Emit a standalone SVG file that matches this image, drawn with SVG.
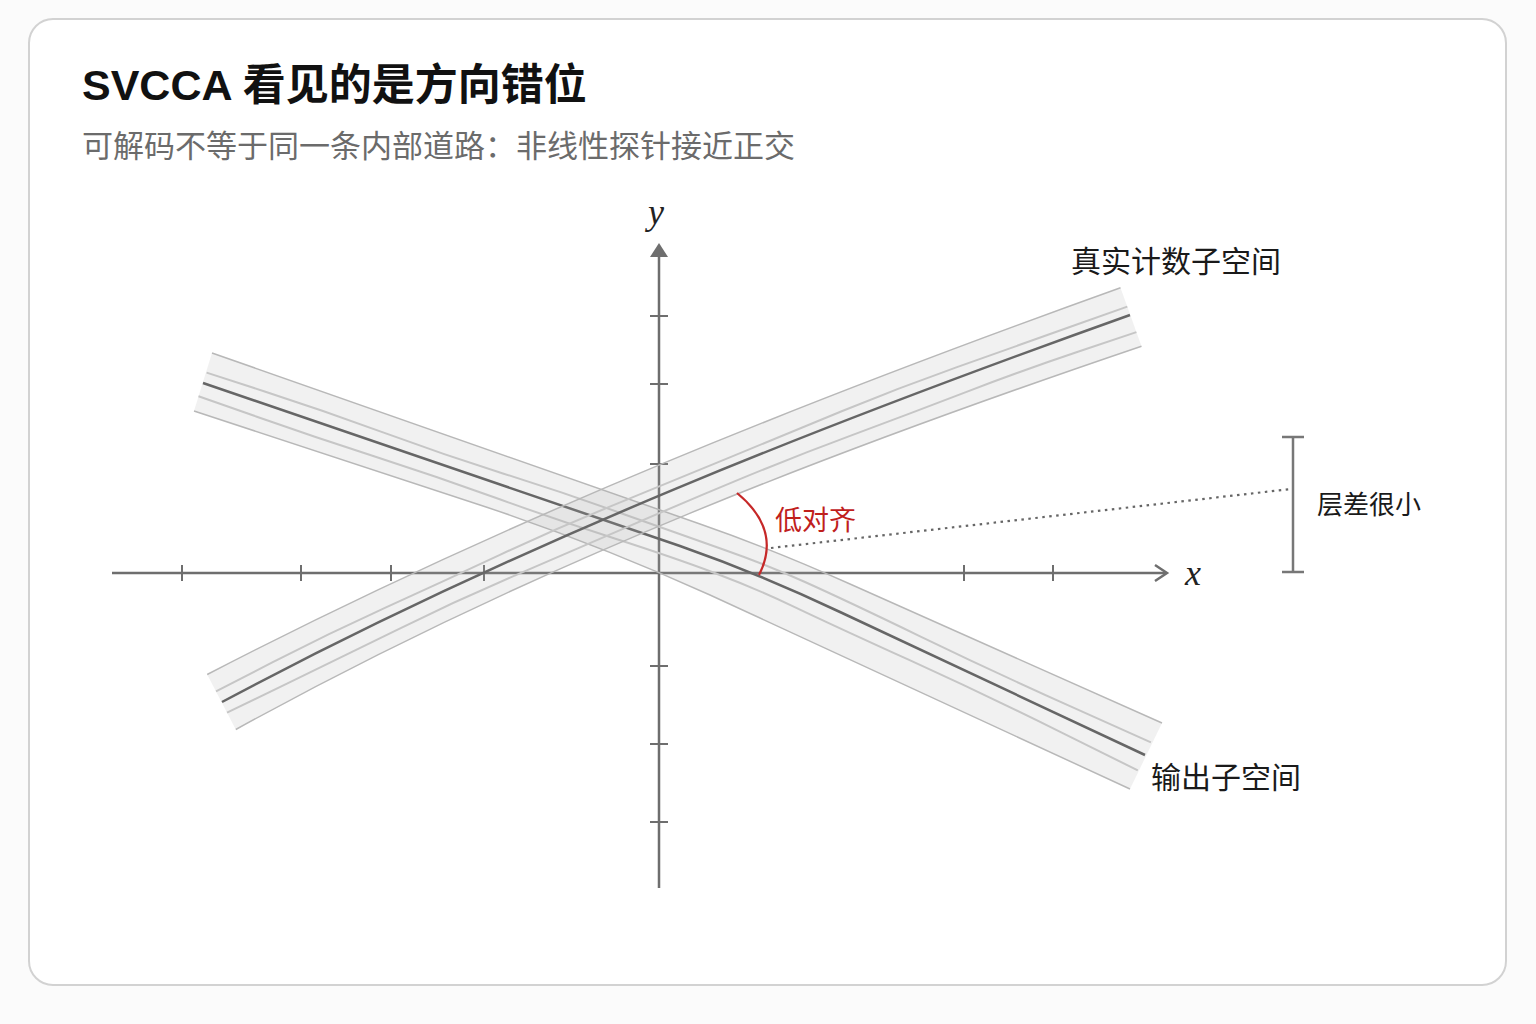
<svg xmlns="http://www.w3.org/2000/svg" width="1536" height="1024" viewBox="0 0 1536 1024">
<style>
.axis{stroke:#6e6e6e;stroke-width:2.5;fill:none;stroke-linecap:butt}
.tick{stroke:#6e6e6e;stroke-width:2}
.bandfill{fill:#aaaaaa;fill-opacity:0.17;stroke:none}
.edge{stroke:#b8b8b8;stroke-width:1.5;fill:none}
.inner{stroke:#c6c6c6;stroke-width:2;fill:none;stroke-linejoin:round}
.core{stroke:#666666;stroke-width:2.5;fill:none;stroke-linejoin:round}
.lbl{font-family:'Noto Sans CJK SC','Noto Sans',sans-serif;fill:#1a1a1a}
.var{font-family:'Liberation Serif','DejaVu Serif',serif;font-style:italic;fill:#222}
</style>
<rect width="1536" height="1024" fill="#fbfbfb"/>
<rect x="29" y="19" width="1477" height="966" rx="24" fill="#ffffff" stroke="#d2d2d2" stroke-width="2"/>

<g id="title">
<text x="82" y="100" font-family="'Liberation Sans','Noto Sans CJK SC',sans-serif" font-weight="bold" font-size="43" fill="#111">SVCCA 看见的是方向错位</text>
<text x="82" y="157" font-family="'Noto Sans CJK SC','Noto Sans',sans-serif" font-size="31" fill="#6b6b6b">可解码不等于同一条内部道路：非线性探针接近正交</text>
</g>

<g id="axes">
<line class="axis" x1="112" y1="573" x2="1165" y2="573"/>
<path class="axis" d="M1155,565 L1167,573 L1155,581"/>
<line class="axis" x1="659" y1="888" x2="659" y2="252"/>
<polygon points="659,243 668,257 650,257" fill="#6e6e6e"/>
<g class="tick">
<line x1="182" y1="565" x2="182" y2="581"/>
<line x1="301" y1="565" x2="301" y2="581"/>
<line x1="391" y1="565" x2="391" y2="581"/>
<line x1="484" y1="565" x2="484" y2="581"/>
<line x1="964" y1="565" x2="964" y2="581"/>
<line x1="1053" y1="565" x2="1053" y2="581"/>
<line x1="650" y1="316" x2="668" y2="316"/>
<line x1="650" y1="384" x2="668" y2="384"/>
<line x1="650" y1="464" x2="668" y2="464"/>
<line x1="650" y1="666" x2="668" y2="666"/>
<line x1="650" y1="744" x2="668" y2="744"/>
<line x1="650" y1="822" x2="668" y2="822"/>
</g>
<text class="var" x="1185" y="585" font-size="36">x</text>
<text class="var" x="648" y="224" font-size="36">y</text>
</g>

<g id="band-output">
<path class="bandfill" d="M212,353 L700,524 Q772,549 850,584 L1162,723 L1130,789 L710,595 Q595,543 480,505 L194,411 Z"/>
<path class="edge" d="M212,353 L700,524 Q772,549 850,584 L1162,723"/>
<path class="edge" d="M194,411 L480,505 Q595,543 710,595 L1130,789"/>
<path class="inner" d="M206.6,372.6 L265.4,391.7 Q324.2,410.7 383.7,432.6 Q443.2,454.5 503.7,473.7 Q564.2,492.8 623.9,514.2 Q683.6,535.6 724,549.7 Q764.4,563.8 805,582 Q845.5,600.2 920.1,636.3 Q994.7,672.4 1072.8,707.4 L1150.9,742.3"/>
<path class="inner" d="M198.5,396.2 L256.8,416.7 Q315.1,437.2 375.5,456.8 Q435.8,476.3 495.5,497.8 Q555.1,519.3 615.5,538.8 Q675.8,558.3 715.3,573.2 Q754.8,588 794.2,606.8 Q833.6,625.6 909.1,659.9 Q984.5,694.2 1061.2,732.3 L1137.8,770.4"/>
<path class="core" d="M203,383 L680,546 Q760,574 840,612 L1145,755"/>
</g>

<g id="band-real">
<path class="bandfill" d="M207.2,674.5 C507.7,518.5 819.5,395.8 1120.5,287.8 L1141.5,346.2 C840.5,448.2 536.3,563.5 235.8,729.5 Z"/>
<path class="edge" d="M207.2,674.5 C507.7,518.5 819.5,395.8 1120.5,287.8"/>
<path class="edge" d="M235.8,729.5 C536.3,563.5 840.5,448.2 1141.5,346.2"/>
<path class="inner" d="M216,691.3 L272.3,662.4 Q328.6,633.5 386,607.4 Q443.3,581.3 499.9,554.8 Q556.5,528.3 614.1,504.9 Q671.6,481.4 728.6,457.8 Q785.6,434.1 842.3,411 Q899,387.8 956.3,367.4 Q1013.6,347 1070.5,326.8 L1127.3,306.6"/>
<path class="inner" d="M227,712.7 L283.9,685.2 Q340.8,657.6 397.1,629.8 Q453.3,602 510.6,577.4 Q567.9,552.8 624.7,528.1 Q681.4,503.4 738.1,479.9 Q794.8,456.3 852.1,435.1 Q909.4,413.8 965.9,392.1 Q1022.4,370.4 1079.4,351.3 L1136.4,332.1"/>
<path class="core" d="M222,702 C522,542 830,422 1130,315"/>
</g>

<g id="angle">
<path d="M737,493 Q782,530 759,575" fill="none" stroke="#c62828" stroke-width="2.2"/>
<text x="775" y="530" font-family="'Noto Sans CJK SC','Noto Sans',sans-serif" font-size="27" fill="#c0201c">低对齐</text>
<line x1="771" y1="548" x2="1291" y2="489" stroke="#666" stroke-width="2.2" stroke-dasharray="2.5 4.5"/>
</g>

<g id="gap">
<path d="M1293,437 L1293,572 M1282,437 L1304,437 M1282,572 L1304,572" fill="none" stroke="#777" stroke-width="2.5"/>
<text class="lbl" x="1317" y="514" font-size="26">层差很小</text>
</g>

<g id="labels">
<text class="lbl" x="1071" y="272" font-size="30">真实计数子空间</text>
<text class="lbl" x="1151" y="788" font-size="30">输出子空间</text>
</g>
</svg>
